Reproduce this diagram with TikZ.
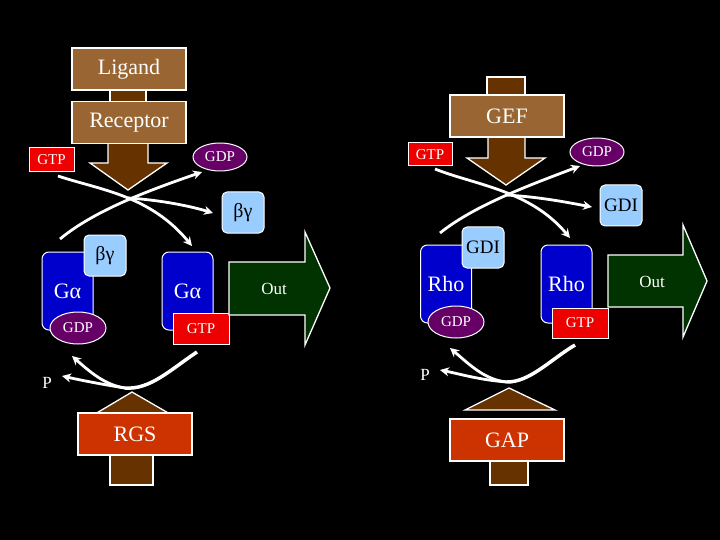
\documentclass[tikz,border=0pt]{standalone}
\usepackage{fontspec}
\setmainfont{Liberation Serif}
\usetikzlibrary{arrows.meta,shapes.geometric}
\definecolor{brl}{HTML}{996633}
\definecolor{brd}{HTML}{663300}
\definecolor{gtpred}{HTML}{EE0000}
\definecolor{rgs}{HTML}{CC3300}
\definecolor{pur}{HTML}{660066}
\definecolor{gblue}{HTML}{0000CC}
\definecolor{lblue}{HTML}{99CCFF}
\definecolor{dgreen}{HTML}{003300}
\begin{document}
\begin{tikzpicture}[x=1pt,y=-1pt,
  box/.style={draw=white,line width=1.3pt,fill=brl,text=white,font=\fontsize{22}{24}\selectfont,minimum width=114pt,minimum height=42pt,inner sep=0pt},
  gtp/.style={draw=white,line width=1pt,fill=gtpred,text=white,font=\fontsize{15}{16}\selectfont,inner sep=0pt},
  gdp/.style={ellipse,draw=white,line width=1pt,fill=pur,text=white,font=\fontsize{15}{16}\selectfont,minimum width=54pt,minimum height=28pt,inner sep=0pt},
  lb/.style={draw=white,line width=1pt,fill=lblue,rounded corners=5pt,minimum width=42pt,minimum height=41pt,inner sep=0pt,font=\fontsize{20}{22}\selectfont},
  prot/.style={draw=white,line width=1pt,fill=gblue,rounded corners=7pt,minimum width=51pt,minimum height=78pt,inner sep=0pt,text=white,font=\fontsize{22}{24}\selectfont},
  stem/.style={draw=white,line width=1.3pt,fill=brd},
  outar/.style={draw=white,line width=1.3pt,fill=dgreen},
  flow/.style={draw=white,line width=2.8pt,-{Stealth[length=9pt,width=9pt]}},
  flown/.style={draw=white,line width=2.8pt},
  lbl/.style={text=white,font=\fontsize{17}{18}\selectfont}]
\fill[black] (0,0) rectangle (720,540);
\useasboundingbox (0,0) rectangle (720,540);
% ===== Left panel =====
\draw[stem] (110,88) rectangle (146,104);
\node[box] (lig) at (129,69) {Ligand};
\draw[stem] (108,143) -- (108,163) -- (90,163) -- (128,190) -- (167,163) -- (148,163) -- (148,143);
\node[box] (rec) at (129,122.5) {Receptor};
\node[gtp,minimum width=45pt,minimum height=24pt] (gtp1) at (51.5,160) {GTP};
\node[gdp] (gdp1) at (220,157) {GDP};
\node[lb] (bg1) at (243,212.5) {βγ};
\node[prot] (ga1) at (67.5,291) {Gα};
\node[lb] (bg2) at (105,255.5) {βγ};
\node[gdp,minimum width=56pt,minimum height=32pt] (gdp2) at (78,328) {GDP};
\node[prot] (ga2) at (187.5,291) {Gα};
\node[gtp,minimum width=56pt,minimum height=31pt] (gtp2) at (201,328.5) {GTP};
\draw[outar] (229,262) -- (305,262) -- (305,232) -- (330,288) -- (305,345) -- (305,315) -- (229,315) -- cycle;
\node[lbl] (out1) at (274,289) {Out};
\coordinate (c1) at (128,198);
\coordinate (s1) at (58,176);
\coordinate (e1) at (192,246);
\coordinate (s2) at (60,239);
\coordinate (e2) at (202,172);
\coordinate (e3) at (213,213);
\draw[flow] (s1) .. controls (100,190) and (150,195) .. (e1);
\draw[flow] (s2) .. controls (95,210) and (150,190) .. (e2);
\draw[flow] (c1) .. controls (160,200) and (190,206) .. (e3);
% bottom
\draw[stem] (110,452) rectangle (153,485);
\draw[stem] (95,414) -- (132,392) -- (170,414) -- cycle;
\node[box,fill=rgs] (rgs) at (135,434) {RGS};
\coordinate (b0) at (125,388);
\coordinate (b1) at (197,352);
\coordinate (b2) at (72,356);
\coordinate (b3) at (62,376);
\draw[flown,line width=3.5pt] (b1) .. controls (170,370) and (150,390) .. (b0);
\draw[flow] (b0) .. controls (105,385) and (90,372) .. (b2);
\draw[flow] (b0) .. controls (100,384) and (80,380) .. (b3);
\node[lbl] (p1) at (47,383) {P};
% ===== Right panel =====
\draw[stem] (487,77) rectangle (525,97);
\draw[stem] (488,137) -- (488,158) -- (467,158) -- (506,185) -- (545,158) -- (525,158) -- (525,137);
\node[box] (gef) at (507,116) {GEF};
\node[gtp,minimum width=44pt,minimum height=23pt] (gtp3) at (430,154.5) {GTP};
\node[gdp] (gdp3) at (597,152) {GDP};
\node[lb,font=\fontsize{19}{20}\selectfont] (gdi1) at (621,205.5) {GDI};
\node[prot] (rho1) at (446,284) {Rho};
\node[lb,font=\fontsize{19}{20}\selectfont] (gdi2) at (483,247.5) {GDI};
\node[gdp,minimum width=56pt,minimum height=32pt] (gdp4) at (456,322) {GDP};
\node[prot] (rho2) at (566.5,284) {Rho};
\node[gtp,minimum width=56pt,minimum height=30pt] (gtp4) at (580,323) {GTP};
\draw[outar] (608,255) -- (683,255) -- (683,225) -- (707,281) -- (683,337) -- (683,307) -- (608,307) -- cycle;
\node[lbl] (out2) at (652,282) {Out};
\coordinate (c2) at (506,195);
\coordinate (s3) at (435,169);
\coordinate (e4) at (570,238);
\coordinate (s4) at (440,233);
\coordinate (e5) at (580,166);
\coordinate (e6) at (592,207);
\draw[flow] (s3) .. controls (475,185) and (530,190) .. (e4);
\draw[flow] (s4) .. controls (475,205) and (530,185) .. (e5);
\draw[flow] (c2) .. controls (540,197) and (565,202) .. (e6);
\draw[stem] (490,455) rectangle (528,485);
\draw[stem] (465,410) -- (509,388) -- (555,410) -- cycle;
\node[box,fill=rgs] (gap) at (507,440) {GAP};
\coordinate (b4) at (507,382);
\coordinate (b5) at (575,345);
\coordinate (b6) at (450,348);
\coordinate (b7) at (440,370);
\draw[flown,line width=3.5pt] (b5) .. controls (550,360) and (530,382) .. (b4);
\draw[flow] (b4) .. controls (485,380) and (470,365) .. (b6);
\draw[flow] (b4) .. controls (480,380) and (460,374) .. (b7);
\node[lbl] (p2) at (425,375) {P};
\end{tikzpicture}
\end{document}
